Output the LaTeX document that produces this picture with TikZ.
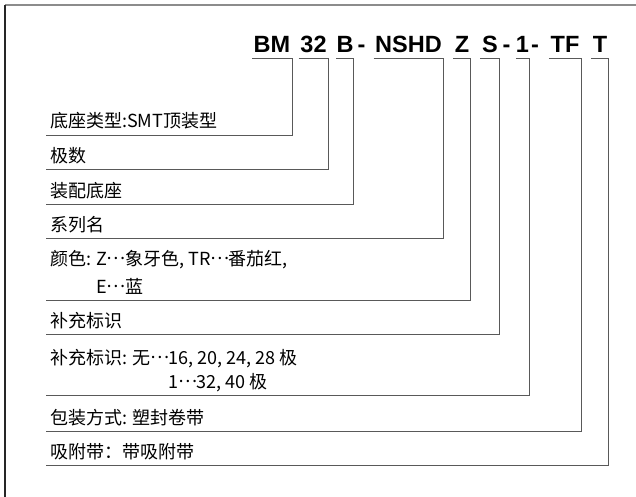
\documentclass[tikz,border=0pt]{standalone}
\usepackage{fontspec}
\setmainfont{Liberation Sans}
\newfontfamily\cjkfont{Noto Sans CJK SC}
\newcommand{\mdots}{\makebox[1em][c]{\raisebox{.32em}{…}}}

\tikzset{
  code/.style={font=\bfseries\fontsize{23.5}{26}\selectfont, inner xsep=1.5pt, inner ysep=0pt, anchor=base},
  lbl/.style={font=\cjkfont\fontsize{18}{22}\selectfont, inner sep=0pt, anchor=base west, align=left},
  brk/.style={draw=black!65, line width=0.9pt},
}

\begin{document}
\begin{tikzpicture}[x=1pt,y=-1pt]
   \useasboundingbox (0,0) rectangle (636,497);
   \draw[black!45, line width=1.2pt] (5,5) -- (636,5);
   \draw[black!85, line width=1.2pt] (5,5) -- (5,497);

   \node[code] (bm)   at (272,53)   {BM};
   \node[code] (pins) at (313.5,53) {32};
   \node[code, inner xsep=0pt] (base) at (345,53) {B};
   \node[code] (dasha) at (361.5,53) {-};
   \node[code] (ser)  at (408.5,53) {NSHD};
   \node[code] (col)  at (462,53)   {Z};
   \node[code] (addn) at (490,53)   {S};
   \node[code] (dashb) at (506.5,53) {-};
   \node[code, inner xsep=0pt] (one) at (522.5,53) {1};
   \node[code] (dashc) at (535,53)   {-};
   \node[code] (pack) at (565,53)   {TF};
   \node[code] (tape) at (600,53)   {T};

   \node[lbl] (lbm)   at (50,128)   {底座类型:SMT顶装型};
   \node[lbl] (lpins) at (50,162.5) {极数};
   \node[lbl] (lbase) at (50,197.5) {装配底座};
   \node[lbl] (lser)  at (50,231.5) {系列名};
   \node[lbl] (lcol)  at (50,293.5) {颜色: Z\mdots 象牙色, TR\mdots 番茄红,\\[6.5pt]\phantom{颜色: }E\mdots 蓝};
   \node[lbl] (laddn) at (50,327.5) {补充标识};
   \node[lbl] (lone)  at (50,388)   {补充标识: 无\mdots 16, 20, 24, 28 极\\[2pt]\phantom{补充标识: 无\mdots}1\mdots 32, 40 极};
   \node[lbl] (lpack) at (50,424)   {包装方式: 塑封卷带};
   \node[lbl] (ltape) at (50,458)   {吸附带：带吸附带};

   \foreach \c/\l in {bm/lbm, pins/lpins, base/lbase, ser/lser, col/lcol, addn/laddn, one/lone, pack/lpack, tape/ltape}
      \draw[brk] ([yshift=-5.3pt]\c.base west) -- ([yshift=-5.3pt]\c.base east) |- ([xshift=-4pt,yshift=-7pt]\l.base west);
\end{tikzpicture}
\end{document}
